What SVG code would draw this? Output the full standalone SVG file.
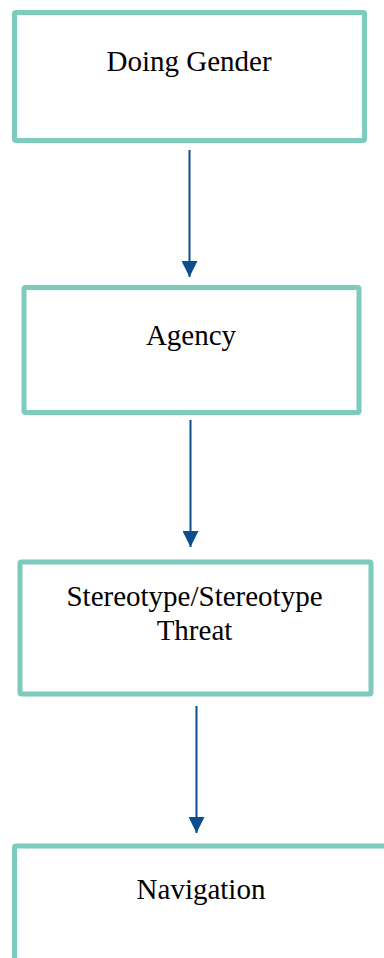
<svg xmlns="http://www.w3.org/2000/svg" width="384" height="958" viewBox="0 0 384 958">
<style>
.box{fill:#ffffff;stroke:#7dcbbd;stroke-width:5}
.lbl{font-family:"Liberation Serif","Times New Roman",serif;font-size:29px;fill:#000000;text-anchor:middle}
.conn{stroke:#0b4d8e;stroke-width:2;fill:none}
</style>
<defs>
<marker id="arr" markerUnits="userSpaceOnUse" markerWidth="16" markerHeight="16" refX="16" refY="8" orient="auto" viewBox="0 0 16 16">
<path d="M0,0 L16,8 L0,16 z" fill="#0b4d8e"/>
</marker>
</defs>
<rect width="384" height="958" fill="#ffffff"/>
<g id="connectors">
<path class="conn" d="M189.5,150 L189.5,277" marker-end="url(#arr)"/>
<path class="conn" d="M190.5,420 L190.5,547" marker-end="url(#arr)"/>
<path class="conn" d="M196.5,706 L196.5,833" marker-end="url(#arr)"/>
</g>
<g id="node-doing-gender">
<rect class="box" x="14.5" y="12.5" width="350" height="128" rx="1.5"/>
<text class="lbl" x="189" y="71">Doing Gender</text>
</g>
<g id="node-agency">
<rect class="box" x="24" y="287.5" width="335" height="125" rx="1.5"/>
<text class="lbl" x="191" y="345">Agency</text>
</g>
<g id="node-stereotype">
<rect class="box" x="20" y="562" width="351" height="132" rx="1.5"/>
<text class="lbl" x="194.5" y="605.5">Stereotype/Stereotype</text>
<text class="lbl" x="194.5" y="640">Threat</text>
</g>
<g id="node-navigation">
<rect class="box" x="14.5" y="846" width="378" height="130" rx="1.5"/>
<text class="lbl" x="201" y="899">Navigation</text>
</g>
</svg>
